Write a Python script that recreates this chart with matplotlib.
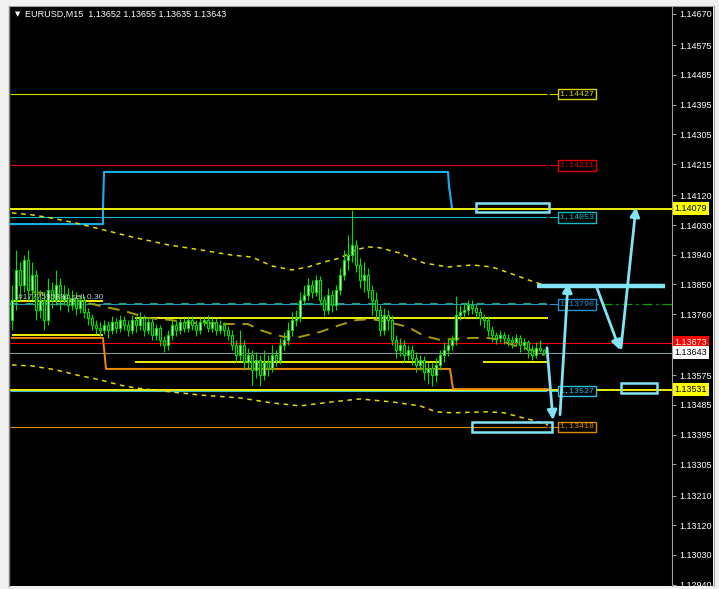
import matplotlib
matplotlib.use('Agg')
import matplotlib.pyplot as plt
import matplotlib.transforms as mtrans
from matplotlib.patches import Rectangle, FancyArrowPatch
import numpy as np

# EURUSD M15 candles
opens = [
    1.13742, 1.13803, 1.13894, 1.13848, 1.13924, 1.13833, 1.13879, 1.13773, 1.13803, 1.13742,
    1.13833, 1.13803, 1.13848, 1.13803, 1.13818, 1.13788, 1.13809, 1.13779, 1.13803, 1.13767,
    1.13748, 1.13727, 1.13718, 1.13712, 1.13727, 1.13712, 1.13736, 1.13718, 1.13742, 1.13727,
    1.13712, 1.13742, 1.13727, 1.13748, 1.13712, 1.13736, 1.13697, 1.13718, 1.13682, 1.13667,
    1.13697, 1.13727, 1.13712, 1.13736, 1.13718, 1.13742, 1.13727, 1.13712, 1.13736, 1.13742,
    1.13718, 1.13736, 1.13712, 1.13727, 1.13712, 1.13697, 1.13667, 1.13636, 1.13667, 1.13615,
    1.13636, 1.13591, 1.13621, 1.13576, 1.13615, 1.13597, 1.13636, 1.13621, 1.13667, 1.13682,
    1.13712, 1.13742, 1.13748, 1.13803, 1.13818, 1.13848, 1.13827, 1.13864, 1.13803, 1.13773,
    1.13818, 1.13788, 1.13833, 1.13879, 1.13924, 1.13939, 1.13970, 1.13909, 1.13864, 1.13879,
    1.13833, 1.13803, 1.13773, 1.13712, 1.13758, 1.13742, 1.13682, 1.13651, 1.13667, 1.13636,
    1.13651, 1.13627, 1.13606, 1.13621, 1.13585, 1.13597, 1.13576, 1.13606, 1.13636, 1.13651,
    1.13667, 1.13682, 1.13758, 1.13767, 1.13773, 1.13788, 1.13779, 1.13767, 1.13748, 1.13742,
    1.13712, 1.13697, 1.13688, 1.13697, 1.13688, 1.13682, 1.13676, 1.13688, 1.13667, 1.13676,
    1.13651, 1.13636, 1.13658, 1.13652]
highs = [
    1.13848, 1.13955, 1.13918, 1.13939, 1.13955, 1.13918, 1.13894, 1.13833, 1.13827, 1.13870,
    1.13858, 1.13894, 1.13870, 1.13848, 1.13839, 1.13833, 1.13827, 1.13818, 1.13815, 1.13779,
    1.13761, 1.13742, 1.13736, 1.13742, 1.13739, 1.13755, 1.13748, 1.13758, 1.13755, 1.13742,
    1.13758, 1.13755, 1.13767, 1.13758, 1.13748, 1.13748, 1.13730, 1.13727, 1.13694, 1.13712,
    1.13742, 1.13742, 1.13748, 1.13748, 1.13755, 1.13755, 1.13742, 1.13748, 1.13755, 1.13758,
    1.13748, 1.13748, 1.13742, 1.13736, 1.13724, 1.13712, 1.13682, 1.13712, 1.13682, 1.13658,
    1.13651, 1.13645, 1.13636, 1.13651, 1.13636, 1.13667, 1.13651, 1.13688, 1.13706, 1.13736,
    1.13767, 1.13773, 1.13827, 1.13848, 1.13870, 1.13864, 1.13879, 1.13876, 1.13815, 1.13839,
    1.13833, 1.13848, 1.13900, 1.13955, 1.14000, 1.14076, 1.13985, 1.13930, 1.13918, 1.13900,
    1.13848, 1.13827, 1.13788, 1.13779, 1.13773, 1.13758, 1.13697, 1.13688, 1.13682, 1.13667,
    1.13667, 1.13645, 1.13636, 1.13633, 1.13615, 1.13615, 1.13627, 1.13651, 1.13676, 1.13688,
    1.13697, 1.13815, 1.13788, 1.13794, 1.13803, 1.13803, 1.13791, 1.13779, 1.13761, 1.13755,
    1.13724, 1.13706, 1.13712, 1.13706, 1.13700, 1.13694, 1.13700, 1.13697, 1.13688, 1.13682,
    1.13667, 1.13676, 1.13682, 1.13655]
lows = [
    1.13712, 1.13773, 1.13803, 1.13827, 1.13803, 1.13803, 1.13742, 1.13748, 1.13712, 1.13727,
    1.13779, 1.13788, 1.13773, 1.13788, 1.13767, 1.13773, 1.13758, 1.13764, 1.13748, 1.13727,
    1.13712, 1.13700, 1.13694, 1.13700, 1.13688, 1.13700, 1.13703, 1.13706, 1.13712, 1.13694,
    1.13700, 1.13706, 1.13712, 1.13694, 1.13700, 1.13682, 1.13682, 1.13664, 1.13645, 1.13651,
    1.13682, 1.13694, 1.13700, 1.13706, 1.13706, 1.13712, 1.13694, 1.13700, 1.13724, 1.13706,
    1.13706, 1.13697, 1.13700, 1.13694, 1.13682, 1.13651, 1.13615, 1.13621, 1.13591, 1.13597,
    1.13545, 1.13567, 1.13542, 1.13561, 1.13573, 1.13585, 1.13603, 1.13609, 1.13651, 1.13667,
    1.13694, 1.13724, 1.13736, 1.13788, 1.13803, 1.13809, 1.13815, 1.13788, 1.13755, 1.13761,
    1.13767, 1.13773, 1.13818, 1.13864, 1.13894, 1.13918, 1.13888, 1.13839, 1.13827, 1.13809,
    1.13758, 1.13748, 1.13694, 1.13697, 1.13712, 1.13667, 1.13627, 1.13633, 1.13615, 1.13621,
    1.13606, 1.13585, 1.13591, 1.13561, 1.13548, 1.13542, 1.13555, 1.13591, 1.13615, 1.13633,
    1.13651, 1.13667, 1.13742, 1.13748, 1.13758, 1.13761, 1.13748, 1.13727, 1.13718, 1.13694,
    1.13676, 1.13670, 1.13676, 1.13670, 1.13664, 1.13658, 1.13664, 1.13645, 1.13651, 1.13627,
    1.13621, 1.13627, 1.13645, 1.13635]
closes = [
    1.13803, 1.13894, 1.13848, 1.13924, 1.13833, 1.13879, 1.13773, 1.13803, 1.13742, 1.13833,
    1.13803, 1.13848, 1.13803, 1.13818, 1.13788, 1.13809, 1.13779, 1.13803, 1.13767, 1.13748,
    1.13727, 1.13718, 1.13712, 1.13727, 1.13712, 1.13736, 1.13718, 1.13742, 1.13727, 1.13712,
    1.13742, 1.13727, 1.13748, 1.13712, 1.13736, 1.13697, 1.13718, 1.13682, 1.13667, 1.13697,
    1.13727, 1.13712, 1.13736, 1.13718, 1.13742, 1.13727, 1.13712, 1.13736, 1.13742, 1.13718,
    1.13736, 1.13712, 1.13727, 1.13712, 1.13697, 1.13667, 1.13636, 1.13667, 1.13615, 1.13636,
    1.13591, 1.13621, 1.13576, 1.13615, 1.13597, 1.13636, 1.13621, 1.13667, 1.13682, 1.13712,
    1.13742, 1.13748, 1.13803, 1.13818, 1.13848, 1.13827, 1.13864, 1.13803, 1.13773, 1.13818,
    1.13788, 1.13833, 1.13879, 1.13924, 1.13939, 1.13970, 1.13909, 1.13864, 1.13879, 1.13833,
    1.13803, 1.13773, 1.13712, 1.13758, 1.13742, 1.13682, 1.13651, 1.13667, 1.13636, 1.13651,
    1.13627, 1.13606, 1.13621, 1.13585, 1.13597, 1.13576, 1.13606, 1.13636, 1.13651, 1.13667,
    1.13682, 1.13758, 1.13767, 1.13773, 1.13788, 1.13779, 1.13767, 1.13748, 1.13742, 1.13712,
    1.13697, 1.13688, 1.13697, 1.13688, 1.13682, 1.13676, 1.13688, 1.13667, 1.13676, 1.13651,
    1.13636, 1.13658, 1.13652, 1.13643]

# envelope / moving average (bar index, price)
upper_x = [0, 5, 10, 16, 22, 30, 39, 47, 55, 60, 65, 70, 74, 78, 82, 86, 89, 92, 97, 103, 109, 115, 120, 125, 129, 133]
upper_y = [1.14067, 1.14061, 1.14051, 1.14036, 1.14018, 1.13994, 1.13970, 1.13955, 1.13939, 1.13933,
           1.13906, 1.13894, 1.13903, 1.13918, 1.13930, 1.13955, 1.13964, 1.13961, 1.13945, 1.13915,
           1.13903, 1.13909, 1.13903, 1.13882, 1.13864, 1.13848]
mid_x = [5, 8, 12, 17, 22, 28, 34, 40, 44, 49, 54, 59, 62, 65, 68, 72, 77, 82, 86, 90, 95, 99, 103,
         107, 111, 115, 119, 122, 125, 130, 133]
mid_y = [1.13827, 1.13824, 1.13812, 1.13800, 1.13785, 1.13770, 1.13748, 1.13742, 1.13733, 1.13733,
         1.13730, 1.13730, 1.13712, 1.13700, 1.13691, 1.13691, 1.13706, 1.13727, 1.13742, 1.13745,
         1.13733, 1.13721, 1.13694, 1.13682, 1.13685, 1.13688, 1.13688, 1.13682, 1.13667, 1.13651, 1.13636]
lower_x = [0, 5, 11, 16, 22, 27, 31, 40, 47, 57, 65, 72, 80, 87, 95, 102, 106, 110, 119, 123, 127, 130, 134]
lower_y = [1.13606, 1.13603, 1.13591, 1.13576, 1.13561, 1.13545, 1.13536, 1.13524, 1.13515, 1.13506,
           1.13491, 1.13482, 1.13494, 1.13503, 1.13494, 1.13482, 1.13464, 1.13461, 1.13464, 1.13461,
           1.13448, 1.13439, 1.13424]

# cyan channel outline
chan_x = [-0.5, 22.75, 22.75, 23, 109, 109.25, 110]
chan_y = [1.14033, 1.14033, 1.14082, 1.14191, 1.14191, 1.14148, 1.14082]

# labelled horizontal levels: price, text, colour
box_levels = [1.14427, 1.14211, 1.14053, 1.13790, 1.13527, 1.13418]
box_colors = ['#d8d800', '#e00000', '#10b8c8', '#2a8fd0', '#30c0e0', '#e08a00']

# full width levels shown on the price scale
scale_levels = [1.14079, 1.13673, 1.13643, 1.13531]
scale_bg = ['#ffff00', '#ff0000', '#ffffff', '#ffff00']
scale_fg = ['black', 'white', 'black', 'black']
scale_line = ['#f0f000', '#ff0000', '#8c96a0', '#f0f000']

tick_vals = [1.14670, 1.14575, 1.14485, 1.14395, 1.14305, 1.14215, 1.14120, 1.14030, 1.13940,
             1.13850, 1.13760, 1.13575, 1.13485, 1.13395, 1.13305, 1.13210, 1.13120, 1.13030, 1.12940]

W, H = 719, 589
fig = plt.figure(figsize=(W / 100, H / 100), dpi=100)
fig.patch.set_facecolor('#f0f0f0')

# black chart window incl. price scale
fig.add_artist(Rectangle((10 / W, 3 / H), 703 / W, 580 / H, transform=fig.transFigure,
                         facecolor='black', edgecolor='none', zorder=0))
fig.add_artist(plt.Line2D([9 / W, 9 / W], [3 / H, 583 / H], color='#808080', lw=1))
fig.add_artist(plt.Line2D([9 / W, 713 / W], [583.5 / H, 583.5 / H], color='#a0a0a0', lw=0.8))
fig.add_artist(plt.Line2D([713.5 / W, 713.5 / W], [3 / H, 583 / H], color='#a0a0a0', lw=0.8))

ax = fig.add_axes([10 / W, 3 / H, 662 / W, 580 / H])
ax.set_facecolor('black')
ax.set_xlim(-0.5, 165)
ax.set_ylim(1.12936, 1.14694)
for s in ['top', 'left', 'bottom']:
    ax.spines[s].set_visible(False)
ax.spines['right'].set_color('#a0a0a0')
ax.set_xticks([])
ax.yaxis.tick_right()
ax.set_yticks(tick_vals)
ax.set_yticklabels([f'{v:.5f}' for v in tick_vals], fontfamily='Liberation Sans')
ax.tick_params(axis='y', colors='#a0a0a0', labelcolor='white', labelsize=6.5, length=3, pad=2)

trans = mtrans.blended_transform_factory(ax.transAxes, ax.transData)

# candles
x = np.arange(len(closes))
o, h, l, c = map(np.array, (opens, highs, lows, closes))
up = c >= o
ax.vlines(x, l, h, color='#00e000', lw=0.8, zorder=5)
lo = np.minimum(o, c)
bh = np.maximum(np.abs(c - o), 0.00002)
ax.bar(x[up], bh[up], bottom=lo[up], width=0.72, color='#eaffea', edgecolor='#00e000', linewidth=0.8, zorder=6)
ax.bar(x[~up], bh[~up], bottom=lo[~up], width=0.72, color='black', edgecolor='#00e000', linewidth=0.8, zorder=6)

# envelope + MA
ax.plot(upper_x, upper_y, color='#e8d800', lw=1.1, ls=(0, (3, 3)), zorder=4)
ax.plot(lower_x, lower_y, color='#e8d800', lw=1.1, ls=(0, (3, 3)), zorder=4)
ax.plot(mid_x, mid_y, color='#a89c00', lw=1.4, ls=(0, (6, 4)), zorder=4)

# cyan channel
ax.plot(chan_x, chan_y, color='#18b0ea', lw=1.5, zorder=3)

# levels with boxes
for p, col in zip(box_levels, box_colors):
    lw = 0.8
    ax.hlines(p, -0.5, 133.75, color=col, lw=lw, zorder=3)
    ax.hlines(p, 134.25, 136.4, color=col, lw=lw, zorder=3)
    ax.text(136.9, p, f'{p:.5f}', color=col, fontsize=6, family='Liberation Mono', va='center',
            ha='left', zorder=7, bbox=dict(facecolor='black', edgecolor=col, pad=1.3, lw=1))
ax.hlines(box_levels[3], -0.5, 133.75, color='#18a890', lw=1.4, ls=(0, (4, 4)), zorder=3)
ax.hlines(box_levels[3], 137.5, 165, color='#00a000', lw=0.9, ls=(0, (8, 3, 2, 3)), zorder=3)

# full width levels + price scale tags
for p, bg, fg, lc in zip(scale_levels, scale_bg, scale_fg, scale_line):
    ax.axhline(p, color=lc, lw=1.4 if bg == '#ffff00' else 0.8, zorder=3)
    ax.text(1.004, p, f'{p:.5f}', transform=trans, color=fg, fontsize=6.5, family='Liberation Sans',
            va='center', ha='left', clip_on=False, zorder=8,
            bbox=dict(facecolor=bg, edgecolor='none', pad=1.4))

# short support / resistance segments
ax.hlines(1.13748, 30.75, 134, color='#f0f000', lw=1.4, zorder=3)
ax.hlines(1.13615, 30.75, 107.5, color='#f0f000', lw=1.4, zorder=3)
ax.hlines(1.13615, 117.75, 134, color='#f0f000', lw=1.4, zorder=3)
ax.hlines(1.13697, 0, 22.75, color='#f0f000', lw=1.4, zorder=3)
ax.hlines(1.13800, 0, 22.75, color='#f0f000', lw=1.4, zorder=3)
ax.plot([0, 22.75, 23.5, 109.5, 110.25, 134], [1.13688, 1.13688, 1.13594, 1.13594, 1.13533, 1.13533],
        color='#f08a00', lw=1.4, zorder=3)

ax.text(1.5, 1.13809, '#1777595381 sell 0.30', color='#c8c8c8', fontsize=6, family='Liberation Sans',
        va='center', ha='left', zorder=7)

# drawn arrows / boxes
acol = '#80e4f4'
ax.hlines(1.13845, 131.25, 163.25, color=acol, lw=3.2, zorder=8)
for (x0, y0, x1, y1) in [(133.75, 1.13658, 135.25, 1.13439), (137, 1.13455, 139, 1.13855),
                         (146.25, 1.13839, 152, 1.13651), (152.25, 1.13658, 156, 1.14085)]:
    ax.add_patch(FancyArrowPatch((x0, y0), (x1, y1), arrowstyle='-|>', mutation_scale=14,
                                 color=acol, lw=2, zorder=8, shrinkA=0, shrinkB=0))
for (x0, y0, x1, y1) in [(116, 1.14070, 134.25, 1.14097), (115, 1.13403, 135, 1.13433),
                         (152.25, 1.13521, 161.25, 1.13552)]:
    ax.add_patch(Rectangle((x0, y0), x1 - x0, y1 - y0, facecolor='none', edgecolor=acol, lw=1.8, zorder=8))

# header
fig.text(15 / W, 1 - 14 / H, '\u25bc', color='white', fontsize=5, family='DejaVu Sans', va='center')
fig.text(25 / W, 1 - 14 / H, 'EURUSD,M15  1.13652 1.13655 1.13635 1.13643', color='white',
         fontsize=6.5, family='Liberation Sans', va='center')

fig.savefig('out.png', dpi=100, facecolor=fig.get_facecolor())
